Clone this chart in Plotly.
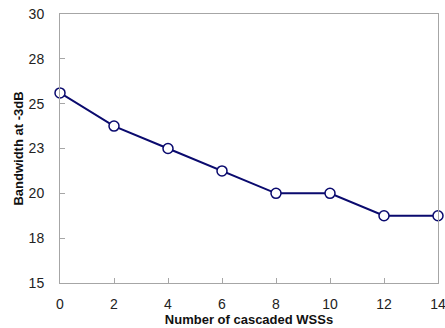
import plotly.graph_objects as go

wss = [0, 2, 4, 6, 8, 10, 12, 14]
bandwidth = [25.6, 23.75, 22.5, 21.25, 20.0, 20.0, 18.75, 18.75]
ytick_vals = [15, 17.5, 20, 22.5, 25, 27.5, 30]
ytick_text = ["15", "18", "20", "23", "25", "28", "30"]
xtick_vals = [0, 2, 4, 6, 8, 10, 12, 14]

navy = "#0a0a6e"
grey = "#a6a6a6"
font = "Liberation Sans"

fig = go.Figure(go.Scatter(
    x=wss, y=bandwidth, mode="lines+markers",
    line=dict(color=navy, width=2),
    marker=dict(size=10, color="white", line=dict(color=navy, width=1.5)),
    cliponaxis=False,
))

fig.update_layout(
    width=445, height=328,
    margin=dict(l=60, r=7, t=14, b=45),
    paper_bgcolor="white", plot_bgcolor="white",
    showlegend=False,
    font=dict(family=font, size=13, color="#222"),
    xaxis=dict(
        range=[0, 14], tickvals=xtick_vals, ticks="inside", ticklen=5,
        tickcolor=grey, showline=True, linecolor=grey, linewidth=1, mirror=True,
        showgrid=False, zeroline=False, tickfont=dict(size=14, color="#222"),
        ticklabeloverflow="allow", ticklabelstandoff=8, automargin=False,
        title=dict(text="<b>Number of cascaded WSSs</b>", font=dict(size=13, color="#111"), standoff=0),
    ),
    yaxis=dict(
        range=[15, 30], tickvals=ytick_vals, ticktext=ytick_text, ticks="inside", ticklen=5,
        tickcolor=grey, showline=True, linecolor=grey, linewidth=1, mirror=True,
        showgrid=False, zeroline=False, tickfont=dict(size=14, color="#222"),
        ticklabelstandoff=12, automargin=False,
        title=dict(text="<b>Bandwidth at -3dB</b>", font=dict(size=13, color="#111"), standoff=2),
    ),
)

fig.write_html("out.html")
